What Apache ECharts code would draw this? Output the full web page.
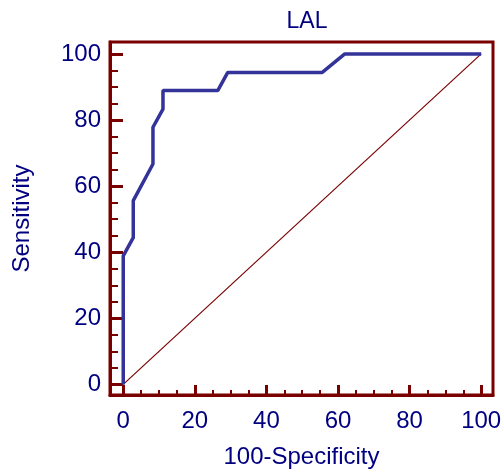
<!DOCTYPE html>
<html>
<head>
<meta charset="utf-8">
<script src="https://cdn.jsdelivr.net/npm/echarts@6/dist/echarts.min.js"></script>
<style>
  html, body { margin: 0; padding: 0; background: #fff; }
  #main { width: 504px; height: 469px; }
</style>
</head>
<body>
<div id="main"></div>
<script>
// ROC curve points: 100-Specificity (x), Sensitivity (y)
var rocX = [0, 0, 2.8, 2.8, 8.3, 8.3, 11.1, 11.1, 26.4, 29.2, 55.6, 61.9, 100];
var rocY = [0, 38.9, 44.4, 55.6, 66.7, 77.8, 83.3, 88.9, 88.9, 94.4, 94.4, 100, 100];
var diagX = [0, 100];
var diagY = [0, 100];
var majorTicks = [0, 20, 40, 60, 80, 100];
var minorTicks = [5, 10, 15, 25, 30, 35, 45, 50, 55, 65, 70, 75, 85, 90, 95];

var navy = '#000080';
var frame = '#7a0000';
var font = 'Liberation Sans, Arial, sans-serif';

var chart = echarts.init(document.getElementById('main'));

function pairs(xs, ys) {
  var out = [];
  for (var i = 0; i < xs.length; i++) out.push([xs[i], ys[i]]);
  return out;
}

var option = {
  animation: false,
  title: {
    text: 'LAL',
    left: 302,
    textAlign: 'center',
    top: 5,
    textStyle: { color: navy, fontSize: 23, fontWeight: 'normal', fontFamily: font }
  },
  grid: {
    left: 110, right: 11, top: 42, bottom: 74,
    outerBoundsMode: 'none',
    show: true, borderColor: frame, borderWidth: 3, backgroundColor: '#fff'
  },
  xAxis: [
    {
      type: 'value', min: -3.7, max: 103.3,
      name: '100-Specificity', nameLocation: 'middle', nameGap: 50,
      nameTextStyle: { color: navy, fontSize: 24, fontFamily: font },
      splitLine: { show: false },
      axisLine: { show: true, onZero: false, lineStyle: { color: frame, width: 3 } },
      axisTick: { inside: true, length: 10, customValues: majorTicks, lineStyle: { color: frame, width: 3 } },
      axisLabel: { customValues: majorTicks, margin: 14, color: navy, fontSize: 24, fontFamily: font }
    },
    {
      type: 'value', min: -3.7, max: 103.3, position: 'bottom',
      splitLine: { show: false },
      axisLine: { show: false, onZero: false },
      axisTick: { inside: true, length: 5, customValues: minorTicks, lineStyle: { color: frame, width: 2 } },
      axisLabel: { show: false }
    }
  ],
  yAxis: [
    {
      type: 'value', min: -3.2, max: 103.6,
      name: 'Sensitivity', nameLocation: 'middle', nameGap: 76, nameRotate: 90,
      nameTextStyle: { color: navy, fontSize: 24, fontFamily: font },
      splitLine: { show: false },
      axisLine: { show: true, onZero: false, lineStyle: { color: frame, width: 3 } },
      axisTick: { inside: true, length: 13, customValues: majorTicks, lineStyle: { color: frame, width: 3 } },
      axisLabel: { customValues: majorTicks, margin: 9, color: navy, fontSize: 24, fontFamily: font }
    },
    {
      type: 'value', min: -3.2, max: 103.6, position: 'left',
      splitLine: { show: false },
      axisLine: { show: false, onZero: false },
      axisTick: { inside: true, length: 8, customValues: minorTicks, lineStyle: { color: frame, width: 2 } },
      axisLabel: { show: false }
    }
  ],
  series: [
    {
      type: 'line',
      data: pairs(diagX, diagY),
      showSymbol: false,
      lineStyle: { color: '#7a0000', width: 1.2 },
      z: 2
    },
    {
      type: 'line',
      data: pairs(rocX, rocY),
      showSymbol: false,
      lineStyle: { color: '#333399', width: 3.5 },
      z: 3
    }
  ]
};

chart.setOption(option);
</script>
</body>
</html>
